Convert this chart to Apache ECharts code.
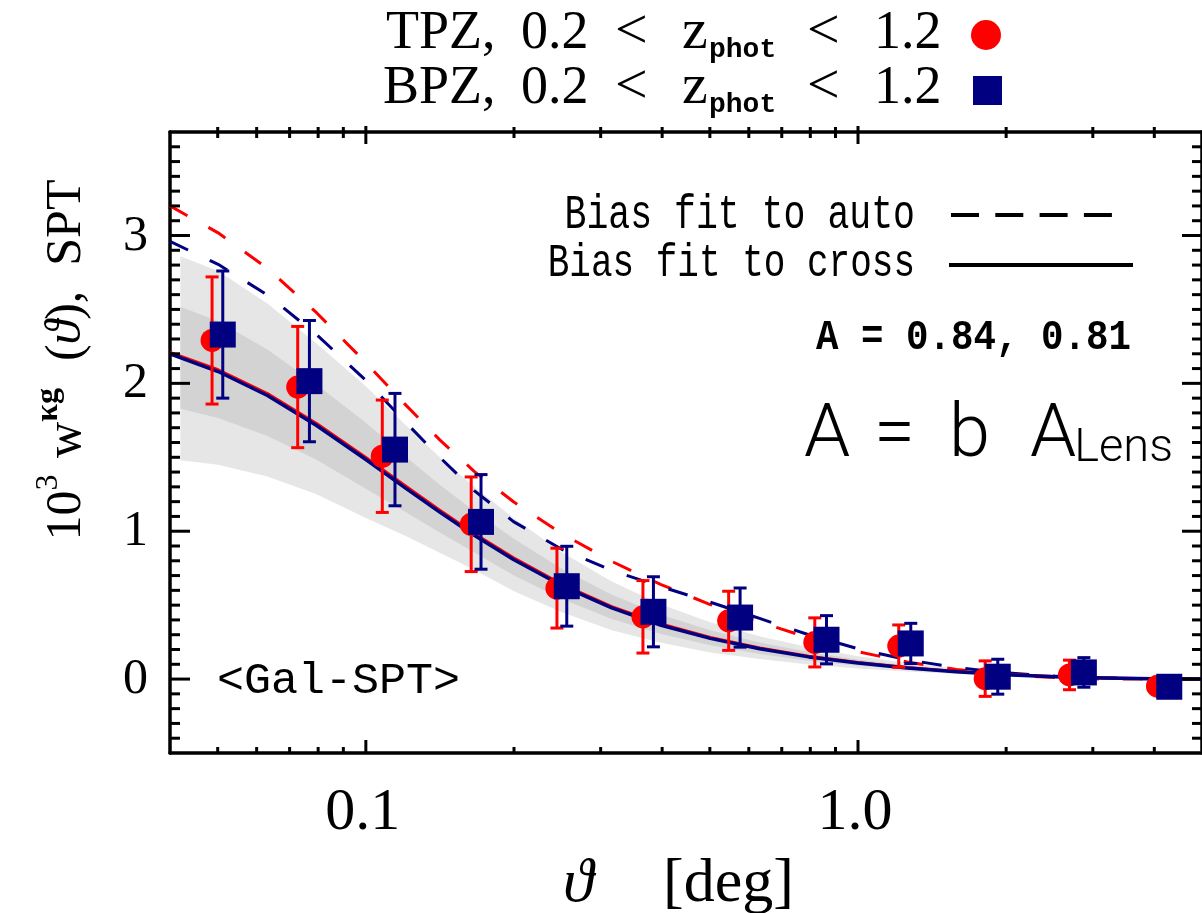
<!DOCTYPE html>
<html><head><meta charset="utf-8">
<script src="https://cdn.jsdelivr.net/npm/echarts@6/dist/echarts.min.js"></script>
<style>html,body{margin:0;padding:0;background:#fff}#c{width:1202px;height:913px}</style>
</head><body><div id="c"></div>
<script>
// ---------------- data ----------------
const thetaTPZ = [0.0487, 0.0727, 0.108, 0.1637, 0.2445, 0.3656, 0.546, 0.817, 1.21, 1.813, 2.69, 4.06];
const wTPZ     = [2.29, 1.975, 1.507, 1.047, 0.615, 0.421, 0.394, 0.248, 0.223, 0.003, 0.028, -0.048];
const errTPZ   = [0.43, 0.41, 0.38, 0.32, 0.27, 0.245, 0.20, 0.166, 0.143, 0.12, 0.10, 0.04];
const thetaBPZ = [0.0512, 0.0768, 0.1146, 0.1714, 0.256, 0.384, 0.576, 0.863, 1.28, 1.923, 2.877, 4.29];
const wBPZ     = [2.33, 2.015, 1.552, 1.063, 0.628, 0.455, 0.416, 0.266, 0.241, 0.016, 0.045, -0.052];
const errBPZ   = [0.43, 0.41, 0.38, 0.32, 0.27, 0.237, 0.20, 0.163, 0.136, 0.118, 0.10, 0.04];

const curveTheta = [0.04,0.0501,0.0631,0.0794,0.1,0.1202,0.1413,0.166,0.1995,0.251,0.316,0.398,0.501,0.631,0.794,1.0,1.259,1.585,1.995,2.512,3.162,3.981,5.0];
const crossBPZ = [2.20,2.08,1.918,1.715,1.485,1.293,1.129,0.973,0.809,0.629,0.481,0.364,0.275,0.205,0.15,0.108,0.075,0.05,0.03,0.016,0.007,0.002,0.0];
const crossTPZ = [2.21,2.092,1.931,1.729,1.499,1.307,1.142,0.985,0.82,0.639,0.49,0.372,0.282,0.211,0.155,0.112,0.078,0.052,0.032,0.017,0.008,0.003,0.001];
const autoTPZ  = [3.20,3.018,2.778,2.478,2.14,1.858,1.618,1.405,1.199,0.981,0.796,0.639,0.504,0.385,0.28,0.185,0.115,0.065,0.03,0.01,0.0,0.0,0.0];
const autoBPZ  = [2.96,2.805,2.598,2.33,2.02,1.74,1.50,1.275,1.065,0.875,0.735,0.625,0.52,0.41,0.30,0.205,0.13,0.078,0.042,0.02,0.008,0.002,0.0];

const bandTheta = [0.042,0.0501,0.0631,0.0794,0.1,0.1202,0.1413,0.166,0.1995,0.251,0.316,0.398,0.501,0.631,0.794,1.0,1.259,1.585,1.995,2.512,3.162,3.981,5.0];
const band2Hi = [2.86,2.76,2.54,2.27,1.98,1.72,1.50,1.30,1.09,0.855,0.66,0.505,0.385,0.29,0.215,0.155,0.108,0.072,0.044,0.024,0.01,0.003,0.0];
const band1Hi = [2.518,2.42,2.229,1.993,1.733,1.507,1.315,1.137,0.95,0.742,0.571,0.435,0.33,0.248,0.183,0.132,0.092,0.061,0.037,0.02,0.0085,0.0025,0.0];
const band1Lo = [1.828,1.765,1.644,1.483,1.288,1.132,0.992,0.857,0.702,0.54,0.406,0.305,0.228,0.17,0.124,0.09,0.064,0.043,0.026,0.014,0.006,0.002,0.0];
const band2Lo = [1.48,1.45,1.37,1.25,1.09,0.97,0.855,0.74,0.595,0.45,0.33,0.245,0.18,0.135,0.098,0.072,0.052,0.035,0.021,0.011,0.005,0.002,0.0];

const xMajorTicks = [0.1, 1.0];
const xTickLabels = ['0.1', '1.0'];
const xMinorTicks = [0.05,0.06,0.07,0.08,0.09,0.2,0.3,0.4,0.5,0.6,0.7,0.8,0.9,2,3,4];
const yMajorTicks = [0, 1, 2, 3];
const yTickLabels = ['0', '1', '2', '3'];

const X_MIN = 0.04, X_MAX = 5, Y_MIN = -0.5, Y_MAX = 3.7;
// ---------------------------------------

const RED = '#ff0000', BLUE = '#000080';
const SERIF = "'Liberation Serif', 'DejaVu Serif', serif";
const MONO = "'Liberation Mono', 'DejaVu Sans Mono', monospace";
const ROB = "Roboto, 'Open Sans', sans-serif";

const yMinorTicks = [];
for (let k = -4; k <= 36; k++) if (k % 10 !== 0) yMinorTicks.push(k / 10);

const chart = echarts.init(document.getElementById('c'), null, {renderer: 'canvas'});

function pairs(xs, ys) { return xs.map((x, i) => [x, ys[i]]); }

function bandSeries(hi, lo, color) {
  return {
    type: 'custom', z: 1, silent: true,
    data: [[bandTheta[0], lo[0]]],
    encode: {x: 0, y: 1},
    renderItem: function (params, api) {
      const pts = [];
      for (let i = 0; i < bandTheta.length; i++) pts.push(api.coord([bandTheta[i], hi[i]]));
      for (let i = bandTheta.length - 1; i >= 0; i--) pts.push(api.coord([bandTheta[i], lo[i]]));
      return {type: 'polygon', shape: {points: pts}, style: {fill: color, stroke: null}};
    }
  };
}

function curveSeries(ys, color, dashed, width, z) {
  return {
    type: 'line', z: z, silent: true, showSymbol: false, symbol: 'none',
    smooth: false,
    data: pairs(curveTheta, ys),
    lineStyle: {color: color, width: width, type: dashed ? [20, 24] : 'solid', opacity: 1, join: 'round'},
    animation: false
  };
}

function errSeries(th, w, e, color, z) {
  return {
    type: 'custom', z: z, silent: true,
    data: th.map((t, i) => [t, w[i], e[i]]),
    encode: {x: 0, y: 1},
    renderItem: function (params, api) {
      const x = api.value(0), y = api.value(1), er = api.value(2);
      const top = api.coord([x, y + er]), bot = api.coord([x, y - er]);
      const hw = 6.5, st = {stroke: color, lineWidth: 3};
      return {type: 'group', children: [
        {type: 'line', shape: {x1: top[0], y1: top[1], x2: bot[0], y2: bot[1]}, style: st},
        {type: 'line', shape: {x1: top[0] - hw, y1: top[1], x2: top[0] + hw, y2: top[1]}, style: st},
        {type: 'line', shape: {x1: bot[0] - hw, y1: bot[1], x2: bot[0] + hw, y2: bot[1]}, style: st}
      ]};
    }
  };
}

function xTickSeries() {
  const data = xMajorTicks.map(v => [v, 1]).concat(xMinorTicks.map(v => [v, 0]));
  return {
    type: 'custom', z: 20, silent: true, clip: false,
    data: data, encode: {x: 0, y: 1},
    renderItem: function (params, api) {
      const v = api.value(0), major = api.value(1) > 0.5;
      const b = api.coord([v, Y_MIN]), t = api.coord([v, Y_MAX]);
      const st = {stroke: '#000', lineWidth: 3};
      const lb = major ? 13 : 6, tin = major ? 12 : 6, tout = major ? 6 : 5;
      return {type: 'group', children: [
        {type: 'line', shape: {x1: b[0], y1: b[1], x2: b[0], y2: b[1] - lb}, style: st},
        {type: 'line', shape: {x1: t[0], y1: t[1] - tout, x2: t[0], y2: t[1] + tin}, style: st}
      ]};
    }
  };
}

function yTickSeries() {
  const data = yMajorTicks.map(v => [X_MIN, v, 1]).concat(yMinorTicks.map(v => [X_MIN, v, 0]));
  return {
    type: 'custom', z: 20, silent: true, clip: false,
    data: data, encode: {x: 0, y: 1},
    renderItem: function (params, api) {
      const v = api.value(1), major = api.value(2) > 0.5;
      const l = api.coord([X_MIN, v]), r = api.coord([X_MAX, v]);
      const st = {stroke: '#000', lineWidth: 3};
      const len = major ? 20 : 10;
      return {type: 'group', children: [
        {type: 'line', shape: {x1: l[0], y1: l[1], x2: l[0] + len, y2: l[1]}, style: st},
        {type: 'line', shape: {x1: r[0], y1: r[1], x2: r[0] - len, y2: r[1]}, style: st}
      ]};
    }
  };
}

function xLabelSeries() {
  return {
    type: 'custom', z: 20, silent: true, clip: false,
    data: xMajorTicks.map(v => [v, Y_MIN]), encode: {x: 0, y: 1},
    renderItem: function (params, api) {
      const p = api.coord([api.value(0), Y_MIN]);
      return {type: 'text', x: p[0] - 3, y: p[1] + 60, style: {
        text: xTickLabels[params.dataIndex], font: '60px ' + SERIF, fill: '#000',
        align: 'center', verticalAlign: 'middle', textAlign: 'center', textVerticalAlign: 'middle'}};
    }
  };
}

function yLabelSeries() {
  return {
    type: 'custom', z: 20, silent: true, clip: false,
    data: yMajorTicks.map(v => [X_MIN, v]), encode: {x: 0, y: 1},
    renderItem: function (params, api) {
      const p = api.coord([X_MIN, api.value(1)]);
      return {type: 'text', x: p[0] - 22, y: p[1] + 1, style: {
        text: yTickLabels[params.dataIndex], font: '50px ' + SERIF, fill: '#000',
        align: 'right', verticalAlign: 'middle', textAlign: 'right', textVerticalAlign: 'middle'}};
    }
  };
}

// ---------- text helpers ----------
const mctx = document.createElement('canvas').getContext('2d');
function tw(text, font) { mctx.font = font; return mctx.measureText(text).width; }
function txt(t, x, y, font, align, extra) {
  return Object.assign({type: 'text', x: x, y: y, silent: true, style: {
    text: t, font: font, fill: '#000', align: align || 'left', verticalAlign: 'middle',
    textAlign: align || 'left', textVerticalAlign: 'middle'}}, extra || {});
}
function fontOf(size, fam, weight, style) {
  return (style || 'normal') + ' ' + (weight || 'normal') + ' ' + size + 'px ' + fam;
}
function tok(t, x, baseY, size, fam, weight, style) {
  return txt(t, x, baseY - 0.3 * size, fontOf(size, fam, weight, style), 'left');
}
function runPieces(pieces) {
  let x = 0; const ch = [];
  pieces.forEach(p => {
    const font = fontOf(p.f, p.fam, p.weight, p.style);
    x += (p.gap || 0);
    ch.push(txt(p.t, x, (p.dy || 0) - 0.3 * p.f, font, 'left'));
    x += tw(p.t, font);
  });
  return {ch: ch, w: x};
}

const graphics = [];
// top legend
[['TPZ,', 386, 50], ['BPZ,', 383, 105]].forEach(([lab, lx, by]) => {
  graphics.push(tok(lab, lx, by, 54, SERIF));
  graphics.push(tok('0.2', 521, by, 54, SERIF));
  graphics.push(tok('<', 615, by, 58, SERIF));
  graphics.push(tok('z', 682, by, 58, SERIF));
  graphics.push(tok('phot', 709, by + 8, 28, MONO, 'bold'));
  graphics.push(tok('<', 807, by, 58, SERIF));
  graphics.push(tok('1.2', 874, by, 54, SERIF));
});
graphics.push({type: 'circle', silent: true, shape: {cx: 986, cy: 35, r: 15}, style: {fill: RED}});
graphics.push({type: 'rect', silent: true, shape: {x: 973, y: 76, width: 29, height: 29}, style: {fill: BLUE}});

// bias legend
graphics.push({type: 'group', x: 915, y: 215, scaleY: 1.3, children: [txt('Bias fit to auto', 0, 0, fontOf(36.5, MONO), 'right')]});
graphics.push({type: 'group', x: 915, y: 264, scaleY: 1.3, children: [txt('Bias fit to cross', 0, 0, fontOf(36, MONO), 'right')]});
graphics.push({type: 'line', silent: true, shape: {x1: 951, y1: 215, x2: 1112, y2: 215}, style: {stroke: '#000', lineWidth: 4, lineDash: [28, 16.3]}});
graphics.push({type: 'line', silent: true, shape: {x1: 949, y1: 265, x2: 1133, y2: 265}, style: {stroke: '#000', lineWidth: 4}});
graphics.push({type: 'group', x: 1131, y: 338, scaleY: 1.15, children: [txt('A = 0.84, 0.81', 0, 0, fontOf(37.5, MONO, 'bold'), 'right')]});

// A = b A_Lens
graphics.push(tok('A', 804, 460, 74, ROB, '300'));
graphics.push(tok('=', 874, 460, 74, ROB, '300'));
graphics.push(tok('b', 949, 460, 74, ROB, '300'));
const aLens = runPieces([{t: 'A', f: 74, fam: ROB, weight: '300'}, {t: 'Lens', f: 47, fam: ROB, weight: '300', dy: 3, gap: -2}]);
graphics.push({type: 'group', x: 1173 - aLens.w, y: 460, children: aLens.ch});

// <Gal-SPT>
graphics.push(txt('<Gal-SPT>', 217, 681, fontOf(45, MONO), 'left'));

// x title
graphics.push(tok('\u03d1', 563, 903, 62, SERIF, 'normal', 'italic'));
graphics.push(tok('[deg]', 663, 903, 62, SERIF));

// y title (rotated)
const yt = runPieces([
  {t: '10', f: 50, fam: SERIF},
  {t: '3', f: 32, fam: SERIF, dy: -24},
  {t: ' w', f: 50, fam: SERIF, gap: 4},
  {t: '\u03bag', f: 32, fam: SERIF, weight: 'bold', dy: -24},
  {t: '  (', f: 50, fam: SERIF, gap: 2},
  {t: '\u03d1', f: 50, fam: SERIF, style: 'italic'},
  {t: '),  SPT', f: 50, fam: SERIF}
]);
yt.ch.forEach(c => { c.x -= yt.w / 2; });
graphics.push({type: 'group', x: 82, y: 360, rotation: Math.PI / 2, children: yt.ch});

const axisLine = {show: true, onZero: false, lineStyle: {color: '#000', width: 3.5}};
const hidden = {axisTick: {show: false}, axisLabel: {show: false}, splitLine: {show: false}};

chart.setOption({
  animation: false,
  backgroundColor: '#fff',
  grid: {left: 170, top: 132, width: 1038, height: 621, containLabel: false},
  xAxis: [
    Object.assign({type: 'log', logBase: 10, min: X_MIN, max: X_MAX, position: 'bottom', axisLine: axisLine}, hidden),
    Object.assign({type: 'log', logBase: 10, min: X_MIN, max: X_MAX, position: 'top', axisLine: axisLine}, hidden)
  ],
  yAxis: [
    Object.assign({type: 'value', min: Y_MIN, max: Y_MAX, position: 'left', axisLine: axisLine}, hidden),
    Object.assign({type: 'value', min: Y_MIN, max: Y_MAX, position: 'right', axisLine: axisLine}, hidden)
  ],
  series: [
    bandSeries(band2Hi, band2Lo, '#e6e6e6'),
    bandSeries(band1Hi, band1Lo, '#d3d3d3'),
    curveSeries(autoTPZ, RED, true, 3, 3),
    curveSeries(autoBPZ, BLUE, true, 3, 3),
    curveSeries(crossTPZ, RED, false, 3, 4),
    curveSeries(crossBPZ, BLUE, false, 3.5, 4),
    errSeries(thetaTPZ, wTPZ, errTPZ, RED, 5),
    {type: 'scatter', z: 6, silent: true, symbol: 'circle', symbolSize: 23, itemStyle: {color: RED, opacity: 1}, data: pairs(thetaTPZ, wTPZ)},
    errSeries(thetaBPZ, wBPZ, errBPZ, BLUE, 7),
    {type: 'scatter', z: 8, silent: true, symbol: 'rect', symbolSize: 26, itemStyle: {color: BLUE, opacity: 1}, data: pairs(thetaBPZ, wBPZ)},
    xTickSeries(), yTickSeries(), xLabelSeries(), yLabelSeries()
  ],
  graphic: graphics
});
</script></body></html>
